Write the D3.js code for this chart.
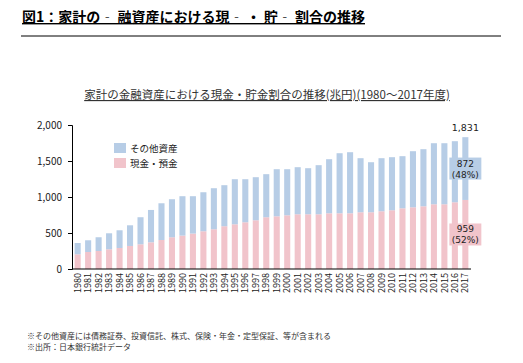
<!DOCTYPE html>
<html>
<head>
<meta charset="utf-8">
<script src="https://cdn.jsdelivr.net/npm/d3@7"></script>
<style>
  body { margin: 0; background: #fff; }
  svg text { font-family: "Noto Sans CJK JP", "Noto Sans", sans-serif; fill: #222; }
  svg text.num { font-family: "DejaVu Sans", sans-serif; }
</style>
</head>
<body>
<div id="chart"></div>
<script>
var years = d3.range(1980, 2018).map(String);
// 現金・預金 (兆円)
var cash = [204, 236, 250, 274, 292, 320, 343, 371, 403, 441, 464, 492, 524, 552, 594, 621,
  649, 677, 719, 732, 746, 760, 760, 760, 774, 774, 774, 788, 788, 802, 816, 843, 857, 871,
  899, 899, 927, 959];
// 合計 (兆円)
var total = [361, 399, 441, 496, 538, 607, 719, 820, 913, 969, 1011, 1011, 1066, 1122, 1164,
  1247, 1247, 1275, 1317, 1386, 1386, 1414, 1400, 1442, 1525, 1608, 1622, 1539, 1483, 1539,
  1553, 1567, 1636, 1664, 1747, 1747, 1775, 1831];
var yTicks = [0, 500, 1000, 1500, 2000];
var seriesNames = ['その他資産', '現金・預金'];
var colors = ['#b7cde6', '#f1c4cb'];

var W = 523, H = 363;
var svg = d3.select('#chart').append('svg').attr('width', W).attr('height', H);

// header
svg.append('text')
  .attr('x', 22).attr('y', 22)
  .style('font-size', '14px').style('font-weight', 'bold')
  .style('text-decoration', 'underline').style('fill', '#000')
  .text('図1：家計の‐ 融資産における現‐ ・ 貯‐ 割合の推移');
svg.append('line')
  .attr('x1', 21).attr('x2', 501).attr('y1', 36).attr('y2', 36)
  .attr('stroke', '#000').attr('stroke-width', 1);

svg.append('text')
  .attr('x', 267).attr('y', 99).attr('text-anchor', 'middle')
  .style('font-size', '11.5px').style('text-decoration', 'underline').style('fill', '#333')
  .text('家計の金融資産における現金・貯金割合の推移(兆円)(1980～2017年度)');

var x = d3.scaleBand().domain(years).range([72, 471]).paddingInner(0.42).paddingOuter(0.25);
var y = d3.scaleLinear().domain([0, 2000]).range([269, 125]);

var data = years.map(function(yr, i) {
  return { year: yr, cash: cash[i], other: total[i] - cash[i] };
});
var stacked = d3.stack().keys(['cash', 'other'])(data);

svg.append('g').selectAll('g')
  .data(stacked).enter().append('g')
  .attr('fill', function(d) { return d.key === 'cash' ? colors[1] : colors[0]; })
  .selectAll('rect')
  .data(function(d) { return d; }).enter().append('rect')
  .attr('x', function(d) { return x(d.data.year); })
  .attr('width', x.bandwidth())
  .attr('y', function(d) { return y(d[1]); })
  .attr('height', function(d) { return y(d[0]) - y(d[1]); });

// y axis
var yAxis = svg.append('g').attr('transform', 'translate(72,0)')
  .call(d3.axisLeft(y).tickValues(yTicks).tickSize(4).tickPadding(6).tickFormat(d3.format(',')));
yAxis.selectAll('path, line').attr('stroke', '#000');
yAxis.selectAll('text').style('font-size', '10px').style('fill', '#222');

// x axis
var xAxis = svg.append('g').attr('transform', 'translate(0,269)')
  .call(d3.axisBottom(x).tickSize(0).tickPadding(4));
xAxis.select('path').attr('stroke', '#000').attr('d', 'M72,0H471');
xAxis.selectAll('text')
  .style('font-size', '9px').style('fill', '#222')
  .attr('transform', 'rotate(-90)')
  .attr('text-anchor', 'end')
  .attr('x', -4).attr('y', 0).attr('dy', '0.35em');

// legend
var legend = svg.append('g').attr('transform', 'translate(114,143)');
seriesNames.forEach(function(name, i) {
  legend.append('rect').attr('x', 0).attr('y', i * 15).attr('width', 12).attr('height', 10)
    .attr('fill', colors[i]);
  legend.append('text').attr('x', 16).attr('y', i * 15 + 9)
    .style('font-size', '9.5px').text(name);
});

// labels on last bar
var last = data.length - 1;
var cx = x(years[last]) + x.bandwidth() / 2;
svg.append('text').attr('class', 'num').attr('x', cx).attr('y', y(total[last]) - 6)
  .attr('text-anchor', 'middle').style('font-size', '9.5px').text(d3.format(',')(total[last]));

function boxLabel(cyMid, value, pct, fill) {
  var g = svg.append('g');
  g.append('rect').attr('x', cx - 16).attr('y', cyMid - 11).attr('width', 32).attr('height', 22)
    .attr('fill', fill);
  g.append('text').attr('class', 'num').attr('x', cx).attr('y', cyMid - 2)
    .attr('text-anchor', 'middle').style('font-size', '9px').text(value);
  g.append('text').attr('class', 'num').attr('x', cx).attr('y', cyMid + 9)
    .attr('text-anchor', 'middle').style('font-size', '9px').text('(' + pct + '%)');
}
var other = total[last] - cash[last];
boxLabel((y(total[last]) + y(cash[last])) / 2, other, Math.round(other / total[last] * 100), colors[0]);
boxLabel((y(cash[last]) + y(0)) / 2, cash[last], Math.round(cash[last] / total[last] * 100), colors[1]);

// footnotes
var notes = ['※その他資産には債務証券、投資信託、株式、保険・年金・定型保証、等が含まれる',
  '※出所：日本銀行統計データ'];
svg.selectAll('.note').data(notes).enter().append('text')
  .attr('x', 27).attr('y', function(d, i) { return 339 + i * 11; })
  .style('font-size', '8px').style('fill', '#333')
  .text(function(d) { return d; });
</script>
</body>
</html>
